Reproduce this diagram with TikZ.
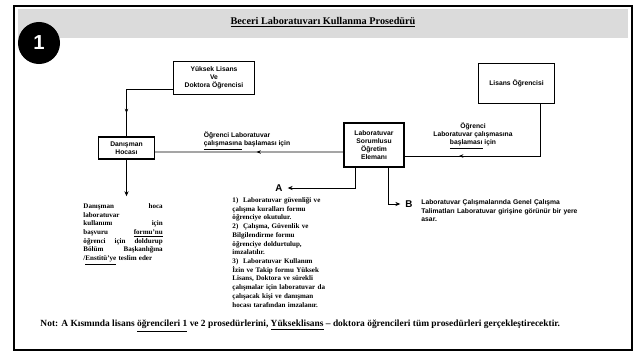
\documentclass[tikz,border=0pt]{standalone}
\usepackage{fontspec}
\setmainfont{Liberation Serif}
\setsansfont{Liberation Sans}
\usepackage{tikz}
\usetikzlibrary{arrows.meta, positioning, calc, decorations.markings}

\begin{document}
\begin{tikzpicture}[
    x=0.025cm, y=-0.025cm,
    box/.style={draw, line width=0.8pt, align=center, inner sep=1pt,
                font=\fontsize{4.8}{5.8}\selectfont\sffamily\bfseries},
    txt/.style={anchor=north west, inner sep=0pt,
                font=\fontsize{5}{6.2}\selectfont\bfseries},
    midarr/.style={postaction={decorate}, decoration={markings,
                   mark=at position #1 with {\arrow{Stealth[length=3pt, width=2.5pt]}}}},
    midarr/.default=0.5,
    >={Stealth[length=3.5pt, width=3pt]}, line width=0.7pt
]
\useasboundingbox (0,0) rectangle (640,356);

% frame and header
\fill[gray!28] (18,9) rectangle (628,38);
\draw[line width=1.4pt] (14,6) rectangle (632,350);
\node[circle, fill=black, minimum size=1.05cm, inner sep=0pt,
      font=\sffamily\bfseries\Large, text=white] (num) at (39,43) {1};
\node[font=\fontsize{7.3}{9}\selectfont\bfseries] (title) at (323,22)
    {\underline{Beceri Laboratuvarı Kullanma Prosedürü}};

% boxes
\node[box, minimum width=2.03cm, minimum height=0.83cm] (yl)  at (214,78)
    {Yüksek Lisans\\Ve\\Doktora Öğrencisi};
\node[box, minimum width=1.38cm, minimum height=0.55cm] (dan) at (126.5,148)
    {Danışman\\Hocası};
\node[box, minimum width=1.5cm, minimum height=1.1cm]   (lab) at (374,145)
    {Laboratuvar\\Sorumlusu\\Öğretim\\Elemanı};
\node[box, minimum width=1.88cm, minimum height=0.98cm] (lis) at (516.5,83.5)
    {Lisans Öğrencisi};

% labels
\node[font=\fontsize{4.8}{5.8}\selectfont\sffamily\bfseries, align=left] (lbl1) at (247,141)
    {Öğrenci Laboratuvar\\\underline{çalışmasına} başlaması için};
\node[font=\fontsize{4.8}{5.8}\selectfont\sffamily\bfseries, align=center] (lbl2) at (473,136)
    {Öğrenci\\Laboratuvar çalışmasına\\\underline{başlaması} için};
\node[font=\sffamily\bfseries\scriptsize] (alab) at (279,188) {A};
\node[font=\sffamily\bfseries\scriptsize] (blab) at (409,204) {B};

% text blocks
\node[txt, text width=1.98cm, align=left] (dantxt) at (83,203)
    {Danışman \hfill hoca\\ laboratuvar\\ kullanımı \hfill için\\ başvuru \hfill \underline{formu'nu}\\
     öğrenci \hfill için \hfill doldurup\\ Bölüm \hfill Başkanlığına\\ /\underline{Enstitü'ye} teslim eder};
\node[txt, text width=2.8cm, align=left] (atxt) at (232,197)
    {1)~ Laboratuvar güvenliği ve\\ çalışma kuralları formu\\ öğrenciye okutulur.\\
     2)~ Çalışma, Güvenlik ve\\ Bilgilendirme formu\\ öğrenciye doldurtulup,\\ imzalatılır.\\
     3)~ Laboratuvar Kullanım\\ İzin ve Takip formu Yüksek\\ Lisans, Doktora ve sürekli\\
     çalışmalar için laboratuvar da\\ çalışacak kişi ve danışman\\ hocası tarafından imzalanır.};
\node[txt, text width=3.9cm, align=left, font=\fontsize{4.8}{6.2}\selectfont\sffamily\bfseries] (btxt) at (421,199)
    {Laboratuvar Çalışmalarında Genel Çalışma\\ Talimatları Laboratuvar girişine görünür bir yere\\ asar.};
\node[anchor=west, inner sep=0pt, font=\fontsize{6.7}{8}\selectfont\bfseries] (note) at (40,326)
    {Not: A Kısmında lisans \underline{öğrencileri 1} ve 2 prosedürlerini, \underline{Yükseklisans} -- doktora öğrencileri tüm prosedürleri gerçekleştirecektir.};

% connectors
\draw[midarr=0.75] ([yshift=-0.275cm]yl.west) -| (dan.north);
\draw[midarr=0.46] ([yshift=-0.175cm]lab.west) -- ([yshift=-0.1cm]dan.east);
\draw[midarr=0.71] ([xshift=0.59cm]lis.south) |- ([yshift=-0.275cm]lab.east);
\draw[->, shorten >=0.17cm] (dan.south) -- (dan.south |- dantxt.north);
\draw[->] ([xshift=-0.475cm]lab.south) |- (alab.east);
\draw[->] ([xshift=0.35cm]lab.south) |- (blab.west);
\end{tikzpicture}
\end{document}
